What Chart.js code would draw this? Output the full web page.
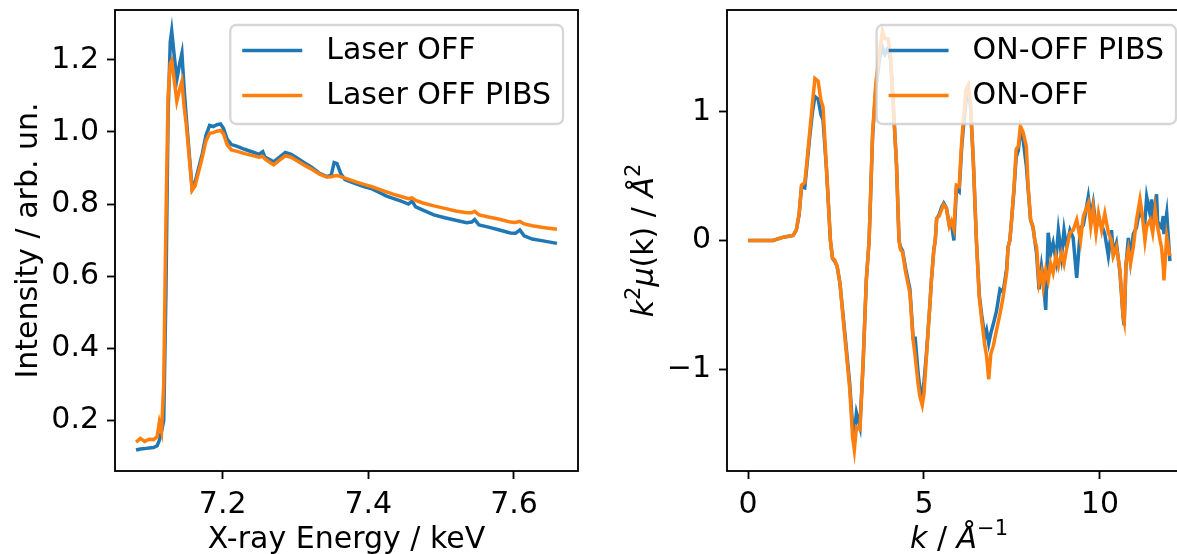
<!DOCTYPE html>
<html>
<head>
<meta charset="utf-8">
<script src="https://cdn.jsdelivr.net/npm/chart.js@4.4.1/dist/chart.umd.min.js"></script>
<style>
  html, body { margin: 0; padding: 0; background: #fff; overflow: hidden; width: 1177px; height: 554px; }
  canvas { position: absolute; top: 0; }
  #left { left: 0; }
  #right { left: 620px; }
</style>
</head>
<body>
<canvas id="left" width="600" height="554"></canvas>
<canvas id="right" width="600" height="554"></canvas>
<script>
// left panel: XANES spectra
const energy = [7.081, 7.087, 7.093, 7.099, 7.105, 7.110, 7.113, 7.116, 7.119, 7.122,
  7.125, 7.128, 7.130, 7.133, 7.137, 7.141, 7.144, 7.147, 7.150, 7.154,
  7.158, 7.162, 7.167, 7.172, 7.177, 7.182, 7.187, 7.192, 7.197, 7.201,
  7.206, 7.212, 7.220, 7.230, 7.240, 7.250, 7.255, 7.258, 7.263, 7.270,
  7.278, 7.286, 7.294, 7.302, 7.312, 7.322, 7.333, 7.343, 7.349, 7.353,
  7.357, 7.362, 7.368, 7.375, 7.385, 7.395, 7.405, 7.415, 7.425, 7.435,
  7.445, 7.455, 7.460, 7.465, 7.475, 7.490, 7.505, 7.520, 7.535, 7.542,
  7.546, 7.552, 7.565, 7.580, 7.595, 7.602, 7.608, 7.614, 7.625, 7.640, 7.659];
const laserOff = [0.118, 0.121, 0.122, 0.124, 0.125, 0.130, 0.145, 0.170, 0.200, 0.55,
  1.05, 1.25, 1.28, 1.22, 1.145, 1.19, 1.218, 1.12, 1.04, 0.94,
  0.845, 0.86, 0.90, 0.94, 0.99, 1.018, 1.015, 1.02, 1.022, 1.01,
  0.98, 0.965, 0.960, 0.952, 0.945, 0.938, 0.945, 0.93, 0.925, 0.917,
  0.93, 0.943, 0.938, 0.928, 0.915, 0.902, 0.885, 0.876, 0.88, 0.915,
  0.912, 0.885, 0.868, 0.862, 0.855, 0.848, 0.842, 0.832, 0.822, 0.815,
  0.808, 0.800, 0.808, 0.792, 0.783, 0.770, 0.762, 0.755, 0.748, 0.750,
  0.757, 0.742, 0.736, 0.728, 0.720, 0.719, 0.728, 0.712, 0.703, 0.698, 0.691];
const laserOffPibs = [0.140, 0.150, 0.142, 0.148, 0.147, 0.155, 0.195, 0.170, 0.30, 0.75,
  1.10, 1.19, 1.198, 1.15, 1.085, 1.12, 1.14, 1.07, 1.02, 0.93,
  0.838, 0.85, 0.89, 0.93, 0.975, 0.996, 0.998, 1.002, 1.004, 0.995,
  0.965, 0.950, 0.946, 0.940, 0.935, 0.930, 0.932, 0.925, 0.918, 0.909,
  0.922, 0.934, 0.930, 0.920, 0.908, 0.897, 0.883, 0.875, 0.876, 0.878,
  0.879, 0.876, 0.872, 0.867, 0.860, 0.854, 0.848, 0.841, 0.834, 0.827,
  0.821, 0.815, 0.817, 0.810, 0.803, 0.795, 0.788, 0.781, 0.776, 0.776,
  0.780, 0.770, 0.764, 0.758, 0.750, 0.749, 0.752, 0.745, 0.740, 0.735, 0.730];

// right panel: EXAFS difference k^2 chi(k)
const kValues = [0.00, 0.40, 0.71, 1.00, 1.28, 1.37, 1.45, 1.52, 1.61, 1.66,
  1.75, 1.83, 1.90, 1.99, 2.07, 2.13, 2.23, 2.34, 2.40, 2.46,
  2.53, 2.61, 2.75, 2.89, 2.97, 3.02, 3.08, 3.18, 3.27, 3.36,
  3.44, 3.54, 3.63, 3.74, 3.82, 3.89, 3.98, 4.05, 4.12, 4.22,
  4.29, 4.33, 4.39, 4.48, 4.60, 4.69, 4.75, 4.83, 4.88, 4.95,
  5.00, 5.07, 5.17, 5.21, 5.28, 5.32, 5.36, 5.43, 5.50, 5.56,
  5.64, 5.72, 5.78, 5.85, 5.92, 6.00, 6.07, 6.11, 6.19, 6.26,
  6.32, 6.40, 6.49, 6.57, 6.64, 6.73, 6.78, 6.84, 6.90, 6.97,
  7.06, 7.16, 7.25, 7.35, 7.39, 7.44, 7.49, 7.56, 7.62, 7.68,
  7.74, 7.82, 7.91, 7.96, 8.03, 8.10, 8.15, 8.20, 8.27, 8.34,
  8.39, 8.46, 8.53, 8.60, 8.67, 8.75, 8.82, 8.91, 8.98, 9.05,
  9.15, 9.24, 9.34, 9.45, 9.53, 9.67, 9.74, 9.81, 9.89, 9.96,
  10.05, 10.14, 10.24, 10.33, 10.38, 10.47, 10.57, 10.66, 10.69, 10.74,
  10.81, 10.87, 10.95, 11.04, 11.14, 11.20, 11.28, 11.33, 11.43, 11.47,
  11.50, 11.57, 11.61, 11.64, 11.71, 11.75, 11.80, 11.82, 11.90, 11.99];
const onOffPibs = [0, 0, 0, 0.026, 0.04, 0.08, 0.20, 0.42, 0.41, 0.55,
  0.80, 1.00, 1.12, 1.10, 0.98, 0.94, 0.55, 0, -0.14, -0.16,
  -0.20, -0.33, -0.72, -1.12, -1.45, -1.50, -1.34, -1.45, -0.95, -0.31,
  0, 0.82, 1.18, 1.42, 1.50, 1.45, 1.50, 1.40, 1.09, 0.58,
  0, -0.05, -0.08, -0.22, -0.38, -0.76, -0.76, -1.02, -1.15, -1.20,
  -1.10, -0.88, -0.49, -0.31, -0.07, 0, 0.17, 0.20, 0.26, 0.29,
  0.25, 0.12, 0.13, 0.00, 0.40, 0.38, 0.72, 0.85, 1.08, 1.12,
  1.05, 0.63, 0, -0.42, -0.58, -0.75, -0.70, -0.80, -0.72, -0.65,
  -0.55, -0.38, -0.40, -0.22, -0.05, 0, 0.16, 0.40, 0.65, 0.70,
  0.85, 0.78, 0.58, 0.40, 0.16, 0.10, 0.00, -0.10, -0.38, -0.20,
  -0.30, -0.54, 0.06, -0.10, -0.02, -0.15, 0.08, -0.12, 0.08, -0.05,
  0.08, 0.02, -0.29, 0.10, 0.12, 0.34, 0.18, 0.29, 0.10, 0.16,
  0.12, 0.05, -0.12, 0.08, -0.10, -0.02, -0.25, -0.60, -0.66, -0.20,
  0.02, -0.15, 0.05, 0.10, 0.26, 0.18, 0.15, 0.34, 0.20, 0.32,
  0.12, 0.28, 0.36, 0.15, 0.11, 0.10, 0.19, 0.05, 0.21, -0.16];
const onOff = [0, 0, 0, 0.026, 0.04, 0.08, 0.21, 0.43, 0.45, 0.58,
  0.84, 1.07, 1.26, 1.24, 1.09, 1.04, 0.55, 0, -0.14, -0.15,
  -0.20, -0.33, -0.75, -1.16, -1.53, -1.63, -1.45, -1.47, -0.95, -0.31,
  0, 0.84, 1.22, 1.48, 1.63, 1.57, 1.57, 1.43, 1.09, 0.58,
  0, -0.07, -0.09, -0.25, -0.41, -0.77, -0.90, -1.11, -1.21, -1.28,
  -1.19, -0.90, -0.49, -0.31, -0.07, 0, 0.17, 0.19, 0.24, 0.28,
  0.25, 0.11, 0.15, 0.09, 0.43, 0.42, 0.76, 0.91, 1.17, 1.21,
  1.07, 0.63, 0, -0.44, -0.62, -0.82, -0.90, -1.08, -0.88, -0.82,
  -0.70, -0.57, -0.44, -0.25, -0.05, 0, 0.16, 0.42, 0.71, 0.73,
  0.89, 0.84, 0.73, 0.42, 0.16, 0.11, 0.00, -0.05, -0.33, -0.25,
  -0.36, -0.23, -0.31, -0.18, -0.25, -0.12, -0.20, -0.10, -0.18, -0.07,
  0.06, 0.08, 0.16, 0.00, 0.19, 0.29, 0.11, 0.25, 0.06, 0.21,
  0.08, 0.21, 0.06, 0.00, -0.12, -0.05, -0.23, -0.59, -0.63, -0.18,
  -0.07, -0.18, -0.05, 0.16, 0.32, 0.21, 0.00, 0.11, 0.16, 0.10,
  0.06, 0.24, 0.15, 0.11, 0.00, -0.05, -0.20, -0.31, 0.03, -0.12];

const energyTicks = [7.2, 7.4, 7.6];
const intensityTicks = [0.2, 0.4, 0.6, 0.8, 1.0, 1.2];
const kTicks = [0, 5, 10];
const chiTicks = [-1, 0, 1];

const FONT = "'DejaVu Sans', sans-serif";
const FS = 30;
const BLUE = '#1f77b4';
const ORANGE = '#ff7f0e';

// matplotlib-style autoscale: data range plus 5% on each side
function padRange(arrays) {
  const all = [].concat(...arrays);
  const lo = Math.min(...all), hi = Math.max(...all), m = (hi - lo) * 0.05;
  return [lo - m, hi + m];
}

function xy(xs, ys) {
  return xs.map((x, i) => ({ x, y: ys[i] }));
}

function scaleOpts(range, ticks, fmt, fitKey, fitSize) {
  return {
    type: 'linear',
    min: range[0],
    max: range[1],
    afterBuildTicks: (s) => { s.ticks = ticks.map((v) => ({ value: v })); },
    afterFit: (s) => {
      s[fitKey] = fitSize;
      // the outer tick labels sit well inside the axes, so no extra room is needed
      s.paddingTop = 0; s.paddingBottom = 0; s.paddingLeft = 0; s.paddingRight = 0;
    },
    border: { display: false },
    grid: { display: true, drawOnChartArea: false, drawTicks: true, tickLength: 8, tickWidth: 1.85, tickColor: '#000' },
    ticks: { color: '#000', padding: 8, autoSkip: false, maxRotation: 0, font: { family: FONT, size: FS }, callback: (v) => fmt(v) },
  };
}

function drawRuns(ctx, runs, cx, cy, rotate) {
  ctx.save();
  ctx.translate(cx, cy);
  if (rotate) ctx.rotate(-Math.PI / 2);
  const fontOf = (r) => (r.it ? 'italic ' : '') + (r.sup ? FS * 0.7 : FS) + 'px ' + FONT;
  let total = 0;
  runs.forEach((r) => { ctx.font = fontOf(r); r.w = ctx.measureText(r.t).width; total += r.w; });
  let x = -total / 2;
  ctx.fillStyle = '#000';
  ctx.textBaseline = 'alphabetic';
  runs.forEach((r) => { ctx.font = fontOf(r); ctx.fillText(r.t, x, r.sup ? -0.45 * FS : 0); x += r.w; });
  ctx.restore();
}

// axes box, legend in the upper right and axis titles, drawn the way matplotlib does
const mplDecor = {
  id: 'mplDecor',
  afterDatasetsDraw(chart, args, opts) {
    const { ctx, chartArea: a } = chart;
    ctx.save();
    ctx.strokeStyle = '#000';
    ctx.lineWidth = 1.85;
    ctx.strokeRect(a.left, a.top, a.right - a.left, a.bottom - a.top);

    const sets = chart.data.datasets;
    ctx.font = FS + 'px ' + FONT;
    const textW = Math.max(...sets.map((d) => ctx.measureText(d.label).width));
    const pad = 0.4 * FS, handle = 2 * FS, gap = 0.8 * FS;
    const w = pad + handle + gap + textW + pad;
    const h = 2 * pad + sets.length * FS + (sets.length - 1) * 0.5 * FS;
    const bx = a.right - 0.5 * FS - w, by = a.top + 0.5 * FS;
    ctx.beginPath();
    ctx.roundRect(bx, by, w, h, 0.2 * FS);
    ctx.fillStyle = 'rgba(255,255,255,0.8)';
    ctx.fill();
    ctx.strokeStyle = 'rgba(204,204,204,0.8)';
    ctx.lineWidth = 2.3;
    ctx.stroke();
    sets.forEach((d, i) => {
      const cy = by + pad + 0.45 * FS + i * 1.5 * FS;
      ctx.beginPath();
      ctx.moveTo(bx + pad, cy);
      ctx.lineTo(bx + pad + handle, cy);
      ctx.strokeStyle = d.borderColor;
      ctx.lineWidth = d.borderWidth;
      ctx.stroke();
      ctx.fillStyle = '#000';
      ctx.textBaseline = 'middle';
      ctx.fillText(d.label, bx + pad + handle + gap, cy + 1);
    });
    ctx.restore();
  },
  afterDraw(chart, args, opts) {
    const { ctx, chartArea: a } = chart;
    drawRuns(ctx, opts.xTitle, (a.left + a.right) / 2, a.bottom + 77, false);
    drawRuns(ctx, opts.yTitle, opts.yTitleX, (a.top + a.bottom) / 2, true);
  },
};

function makeChart(id, sets, xScale, yScale, pad, titles) {
  return new Chart(document.getElementById(id), {
    type: 'line',
    data: {
      datasets: sets.map((s, i) => ({
        label: s.label,
        data: s.data,
        borderColor: s.color,
        backgroundColor: s.color,
        borderWidth: 3.5,
        pointRadius: 0,
        tension: 0,
        fill: false,
        order: sets.length - i, // later series on top, as in matplotlib
      })),
    },
    options: {
      responsive: false,
      animation: false,
      layout: { padding: pad },
      plugins: { legend: { display: false }, tooltip: { enabled: false }, mplDecor: titles },
      scales: { x: xScale, y: yScale },
    },
    plugins: [mplDecor],
  });
}

makeChart('left',
  [
    { label: 'Laser OFF', data: xy(energy, laserOff), color: BLUE },
    { label: 'Laser OFF PIBS', data: xy(energy, laserOffPibs), color: ORANGE },
  ],
  scaleOpts(padRange([energy]), energyTicks, (v) => v.toFixed(1), 'height', 83),
  scaleOpts(padRange([laserOff, laserOffPibs]), intensityTicks, (v) => v.toFixed(1), 'width', 115),
  { left: 0, top: 10, right: 22, bottom: 0 },
  {
    xTitle: [{ t: 'X-ray Energy / keV' }],
    yTitle: [{ t: 'Intensity / arb. un.' }],
    yTitleX: 37,
  });

makeChart('right',
  [
    { label: 'ON-OFF PIBS', data: xy(kValues, onOffPibs), color: BLUE },
    { label: 'ON-OFF', data: xy(kValues, onOff), color: ORANGE },
  ],
  scaleOpts(padRange([kValues]), kTicks, (v) => String(v), 'height', 83),
  scaleOpts(padRange([onOffPibs, onOff]), chiTicks, (v) => (v < 0 ? '\u2212' + Math.abs(v) : String(v)), 'width', 107),
  { left: 0, top: 10, right: 29, bottom: 0 },
  {
    xTitle: [{ t: 'k', it: true }, { t: ' / ' }, { t: '\u00c5', it: true }, { t: '\u22121', sup: true }],
    yTitle: [{ t: 'k', it: true }, { t: '2', sup: true }, { t: '\u03bc', it: true }, { t: '(k) / ' }, { t: '\u00c5', it: true }, { t: '2', sup: true }],
    yTitleX: 653 - 620,
  });
</script>
</body>
</html>
